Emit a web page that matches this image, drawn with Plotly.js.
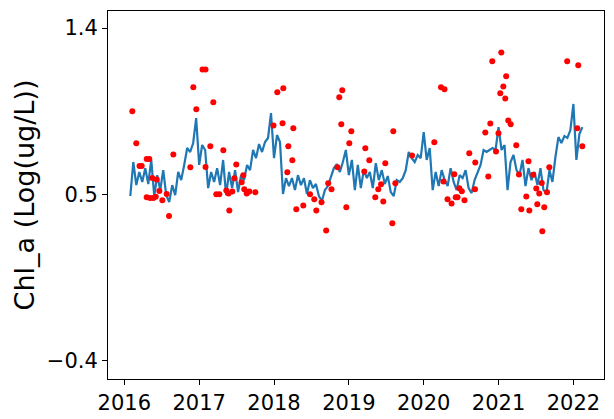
<!DOCTYPE html>
<html>
<head>
<meta charset="utf-8">
<script src="https://cdn.plot.ly/plotly-3.0.1.min.js"></script>
<style>html,body{margin:0;padding:0;background:#fff;}#chart{width:614px;height:419px;}</style>
</head>
<body>
<div id="chart"></div>
<script>
// Modelled series (blue line): start year and step, values (log ug/L)
const lineStartYear = 2016.08;
const lineStepYears = 0.04;
const lineValues = [
  0.491,0.675,0.550,0.621,0.567,0.642,0.556,0.686,0.491,0.604,
  0.523,0.631,0.496,0.458,0.550,0.496,0.621,0.577,0.659,0.751,
  0.729,0.778,0.913,0.659,0.767,0.740,0.534,0.621,0.567,0.642,
  0.550,0.686,0.496,0.621,0.534,0.631,0.512,0.604,0.577,0.659,
  0.631,0.740,0.696,0.772,0.729,0.783,0.805,0.940,0.696,0.821,
  0.783,0.502,0.588,0.545,0.588,0.523,0.604,0.550,0.588,0.502,
  0.577,0.534,0.556,0.491,0.464,0.523,0.545,0.588,0.642,0.664,
  0.621,0.675,0.740,0.604,0.686,0.523,0.659,0.534,0.631,0.588,
  0.621,0.534,0.669,0.577,0.631,0.556,0.599,0.512,0.491,0.577,
  0.567,0.588,0.631,0.729,0.696,0.675,0.713,0.696,0.837,0.686,
  0.751,0.523,0.621,0.545,0.631,0.577,0.545,0.642,0.567,0.523,
  0.604,0.588,0.631,0.534,0.507,0.577,0.621,0.659,0.740,0.729,
  0.740,0.751,0.740,0.864,0.740,0.767,0.523,0.675,0.713,0.631,
  0.604,0.686,0.545,0.642,0.577,0.621,0.550,0.642,0.523,0.507,
  0.631,0.567,0.702,0.810,0.778,0.815,0.805,0.848,0.989,0.686,
  0.826,0.864
];

// Observed samples (red dots)
const obsYears = [
  2016.107,2016.160,2016.203,2016.232,2016.299,2016.334,2016.299,2016.343,2016.387,2016.420,
  2016.374,2016.433,2016.468,2016.508,2016.566,2016.597,2016.655,2016.882,2016.922,2016.962,
  2017.045,2017.085,2017.085,2017.149,2017.189,2017.229,2017.269,2017.323,2017.363,2017.392,
  2017.403,2017.443,2017.470,2017.496,2017.568,2017.590,2017.603,2017.635,2017.670,2017.750,
  2017.993,2018.044,2018.114,2018.124,2018.178,2018.191,2018.245,2018.258,2018.298,2018.391,
  2018.481,2018.538,2018.565,2018.635,2018.697,2018.724,2018.768,2018.848,2018.872,2018.912,
  2018.899,2018.966,2019.006,2019.033,2019.206,2019.220,2019.273,2019.353,2019.393,2019.430,
  2019.460,2019.487,2019.581,2019.594,2019.621,2019.844,2020.142,2020.231,2020.278,2020.265,
  2020.318,2020.372,2020.409,2020.428,2020.452,2020.476,2020.509,2020.545,2020.609,2020.685,
  2020.689,2020.823,2020.863,2020.890,2020.916,2020.966,2020.999,2021.023,2021.037,2021.064,
  2021.090,2021.102,2021.130,2021.162,2021.237,2021.273,2021.304,2021.371,2021.400,2021.411,
  2021.464,2021.504,2021.518,2021.544,2021.577,2021.585,2021.611,2021.647,2021.678,2021.917,
  2022.052,2022.065,2022.119
];
const obsValues = [
  0.949,0.776,0.653,0.653,0.691,0.691,0.484,0.480,0.480,0.487,
  0.588,0.581,0.518,0.468,0.502,0.383,0.716,0.646,1.079,0.960,
  1.176,1.176,0.648,0.760,0.998,0.500,0.500,0.738,0.521,0.505,
  0.413,0.516,0.587,0.662,0.565,0.604,0.527,0.505,0.516,0.511,
  0.873,1.052,0.885,1.074,0.619,0.760,0.684,0.857,0.419,0.440,
  0.500,0.473,0.413,0.457,0.305,0.560,0.528,0.647,1.025,1.063,
  0.879,0.430,0.776,0.841,0.624,0.749,0.684,0.484,0.527,0.554,
  0.462,0.668,0.343,0.841,0.560,0.710,0.782,1.079,1.068,0.570,
  0.473,0.451,0.609,0.484,0.484,0.533,0.517,0.468,0.722,0.527,
  0.673,0.835,0.597,0.884,1.220,0.732,0.830,1.047,1.268,1.084,
  1.019,1.139,0.900,0.879,0.765,0.608,0.419,0.489,0.679,0.413,
  0.606,0.532,0.446,0.505,0.561,0.300,0.430,0.511,0.646,1.220,
  0.858,1.198,0.760
];

const xTickVals = [2016,2017,2018,2019,2020,2021,2022];
const xTickText = ["2016","2017","2018","2019","2020","2021","2022"];
const yTickVals = [-0.4,0.5,1.4];
const yTickText = ["\u22120.4","0.5","1.4"];
const yTitle = "Chl_a (Log(ug/L))";

const traces = [
  {
    type: "scatter", mode: "lines",
    x0: lineStartYear, dx: lineStepYears, y: lineValues,
    line: {color: "#1f77b4", width: 2.2},
    hoverinfo: "skip", showlegend: false
  },
  {
    type: "scatter", mode: "markers",
    x: obsYears, y: obsValues,
    marker: {color: "#ff0000", size: 6, line: {width: 0}},
    showlegend: false
  }
];

const axisCommon = {
  showgrid: false, zeroline: false,
  showline: true, linecolor: "#000", linewidth: 1, mirror: true,
  ticks: "outside", ticklen: 5, tickwidth: 1, tickcolor: "#000",
  tickfont: {family: "DejaVu Sans", size: 21, color: "#000"}
};

const layout = {
  width: 614, height: 419,
  margin: {l: 108, r: 10, t: 11, b: 40},
  paper_bgcolor: "#fff", plot_bgcolor: "#fff",
  showlegend: false,
  xaxis: Object.assign({}, axisCommon, {
    range: [2015.782, 2022.409],
    tickmode: "array", tickvals: xTickVals, ticktext: xTickText
  }),
  yaxis: Object.assign({}, axisCommon, {
    range: [-0.499, 1.492],
    tickmode: "array", tickvals: yTickVals, ticktext: yTickText,
    title: {text: yTitle, font: {family: "DejaVu Sans", size: 27, color: "#000"}, standoff: 4}
  })
};

Plotly.newPlot("chart", traces, layout, {displayModeBar: false, staticPlot: true});
</script>
</body>
</html>
